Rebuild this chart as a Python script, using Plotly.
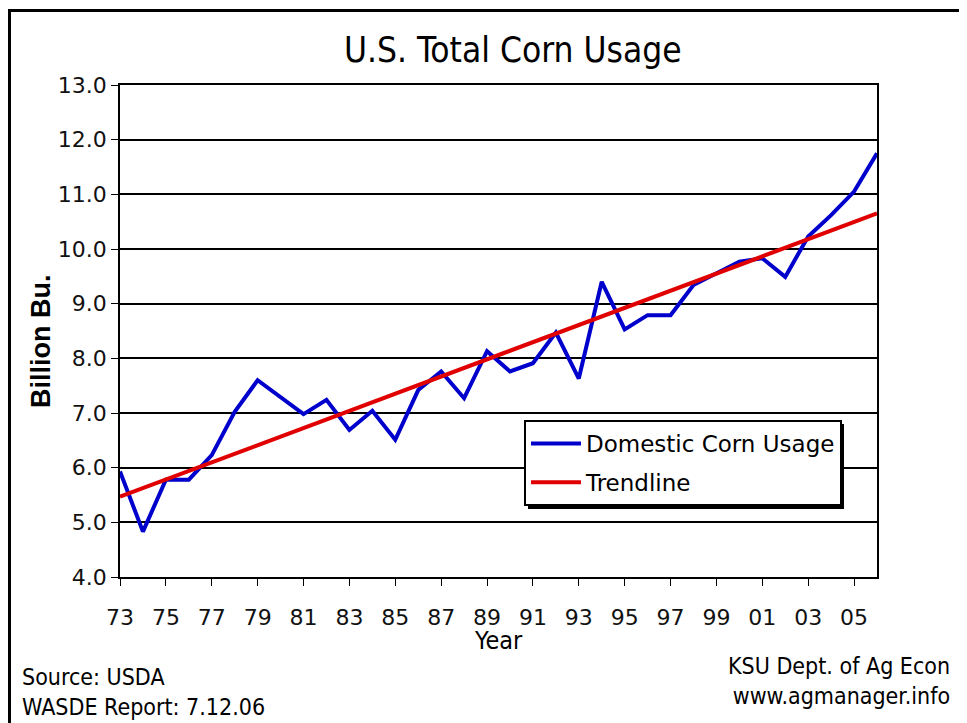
import plotly.graph_objects as go

# U.S. total corn usage, billion bushels
years = list(range(1973, 2007))
usage = [5.93, 4.83, 5.78, 5.78, 6.23, 7.02, 7.60, 7.30, 6.98, 7.24,
         6.69, 7.04, 6.51, 7.42, 7.76, 7.27, 8.13, 7.76, 7.91, 8.47,
         7.63, 9.40, 8.53, 8.79, 8.79, 9.34, 9.56, 9.77, 9.83, 9.49,
         10.23, 10.62, 11.05, 11.75]

# trendline end points
trend_years = [1973, 2006]
trend_vals = [5.47, 10.65]

tick_years = list(range(1973, 2007, 2))
tick_text = [f"{y % 100:02d}" for y in tick_years]

W, H = 967, 723
OFF = 8  # page body margin
# plot area in screen pixels: 120..877 x 85..577
L, T = 120 - OFF, 85 - OFF
R, B = W - (877 - OFF), H - (577 - OFF)
PW, PH = W - L - R, H - T - B


def px(x):
    return (x - OFF - L) / PW


def py(y):
    return (H - B - (y - OFF)) / PH


FONT = "DejaVu Sans, Verdana, sans-serif"
CFONT = "DejaVu Sans Condensed, DejaVu Sans, sans-serif"

fig = go.Figure()
fig.add_trace(go.Scatter(
    x=years, y=usage, mode="lines", name="Domestic Corn Usage",
    line=dict(color="#0000CC", width=4), legendgroup="a",
))
fig.add_trace(go.Scatter(
    x=trend_years, y=trend_vals, mode="lines", name="Trendline",
    line=dict(color="#E00000", width=4), legendgroup="b",
))

fig.update_xaxes(
    range=[1973, 2006], tickvals=tick_years, ticktext=tick_text,
    showgrid=False, showline=True, linecolor="black", linewidth=1.5,
    mirror=True, ticks="outside", ticklen=7, tickcolor="black",
    ticklabelstandoff=13,
    tickfont=dict(size=22, color="#111", family=FONT),
    zeroline=False,
)
fig.update_yaxes(
    range=[4, 13], dtick=1, tickformat=".1f",
    showgrid=True, gridcolor="black", gridwidth=1.5,
    showline=True, linecolor="black", linewidth=1.5, mirror=True,
    ticks="outside", ticklen=7, tickcolor="black",
    tickfont=dict(size=22, color="#111", family=FONT),
    zeroline=False,
)

# outer frame and legend shadow
fig.add_shape(type="rect", xref="paper", yref="paper",
              x0=px(9.5), x1=px(961), y0=py(10.5), y1=py(760),
              line=dict(color="black", width=3), layer="above")
fig.add_shape(type="rect", xref="paper", yref="paper",
              x0=px(528), x1=px(844), y0=py(424), y1=py(509),
              fillcolor="black", line=dict(width=0), layer="above")

fig.add_annotation(text="U.S. Total Corn Usage", xref="paper", yref="paper",
                   x=px(513), y=py(50), xanchor="center", yanchor="middle",
                   showarrow=False,
                   font=dict(size=35, color="black", family=CFONT))
fig.add_annotation(text="<b>Billion Bu.</b>", xref="paper", yref="paper",
                   x=px(41), y=py(342), xanchor="center", yanchor="middle",
                   showarrow=False, textangle=-90,
                   font=dict(size=27, color="black", family="Liberation Sans, Arial"))
fig.add_annotation(text="Year", xref="paper", yref="paper",
                   x=px(498), y=py(640), xanchor="center", yanchor="middle",
                   showarrow=False,
                   font=dict(size=25, color="black", family=CFONT))
fig.add_annotation(text="Source: USDA<br>WASDE Report: 7.12.06", xref="paper", yref="paper",
                   x=px(20), y=py(692), xanchor="left", yanchor="middle",
                   showarrow=False, align="left",
                   font=dict(size=23, color="black", family=CFONT))
fig.add_annotation(text="KSU Dept. of Ag Econ<br>www.agmanager.info", xref="paper", yref="paper",
                   x=px(952), y=py(681), xanchor="right", yanchor="middle",
                   showarrow=False, align="right",
                   font=dict(size=23, color="black", family=CFONT))

fig.update_layout(
    width=W, height=H,
    margin=dict(l=L, r=R, t=T, b=B),
    plot_bgcolor="white", paper_bgcolor="white",
    showlegend=True,
    legend=dict(
        x=px(524), y=py(420), xanchor="left", yanchor="top",
        bgcolor="white", bordercolor="black", borderwidth=2,
        font=dict(size=23, color="black", family=FONT),
        itemwidth=50, traceorder="grouped", tracegroupgap=6,
    ),
)

fig.write_html("out.html")
